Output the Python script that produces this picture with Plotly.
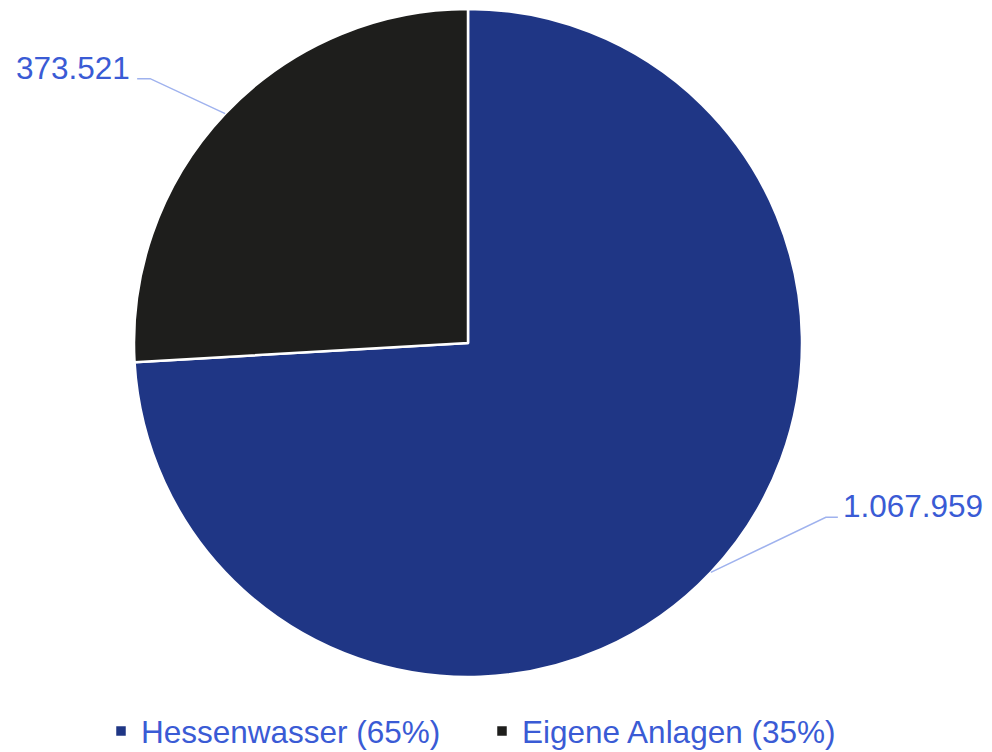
import math
import plotly.graph_objects as go

# ---- data ----
labels = ["Hessenwasser (65%)", "Eigene Anlagen (35%)"]
values = [1067959, 373521]
value_texts = ["1.067.959", "373.521"]
colors = ["#1f3685", "#1e1e1c"]

# ---- layout constants ----
W, H = 992, 752
ML, MR, MT, MB = 134, 190, 9, 75
PW = W - ML - MR
PH = H - MT - MB
FONT = "Liberation Sans, Arial, sans-serif"
TXT_COLOR = "#3a5bd5"
LINE_COLOR = "#9fb2ee"

# label offsets (pixels) for elbow relative to edge point, per slice
elbow_off = [(115, -55), (-75, -35)]
hseg = [12, -13]


def px_to_paper(px, py):
    return (px - ML) / PW, 1 - (py - MT) / PH


fig = go.Figure(go.Pie(
    labels=labels,
    values=values,
    sort=False,
    direction="clockwise",
    rotation=0,
    marker=dict(colors=colors, line=dict(color="white", width=2.5)),
    textinfo="none",
    hoverinfo="label+value",
    domain=dict(x=[0, 1], y=[0, 1]),
))

total = sum(values)
cum = 0
shapes = []
annotations = []
cx, cy = ML + PW / 2, MT + PH / 2
R = min(PW, PH) / 2
for i, v in enumerate(values):
    mid = (cum + v / 2) / total * 2 * math.pi
    cum += v
    ex = cx + R * math.sin(mid)
    ey = cy - R * math.cos(mid)
    bx, by = ex + elbow_off[i][0], ey + elbow_off[i][1]
    hx = bx + hseg[i]
    p0 = px_to_paper(ex, ey)
    p1 = px_to_paper(bx, by)
    p2 = px_to_paper(hx, by)
    path = f"M{p0[0]},{p0[1]} L{p1[0]},{p1[1]} L{p2[0]},{p2[1]}"
    shapes.append(dict(type="path", xref="paper", yref="paper", path=path,
                       line=dict(color=LINE_COLOR, width=1.5)))
    right = hseg[i] > 0
    tx, ty = px_to_paper(hx + (3 if right else -5), by - 11)
    annotations.append(dict(
        x=tx, y=ty, xref="paper", yref="paper", text=value_texts[i],
        showarrow=False, xanchor="left" if right else "right", yanchor="middle",
        font=dict(family=FONT, size=31.5, color=TXT_COLOR)))

lx, ly = px_to_paper(101, 731)
fig.update_layout(
    width=W, height=H,
    margin=dict(l=ML, r=MR, t=MT, b=MB, autoexpand=False),
    paper_bgcolor="white", plot_bgcolor="white",
    shapes=shapes, annotations=annotations,
    showlegend=True,
    legend=dict(orientation="h", x=lx, xanchor="left", y=ly, yanchor="middle",
                bgcolor="rgba(0,0,0,0)",
                font=dict(family=FONT, size=31.5, color=TXT_COLOR),
                traceorder="normal", itemwidth=30, entrywidth=336),
)

fig.write_html("out.html", config={"displayModeBar": False},
               post_script="document.body.style.margin='0px';")
